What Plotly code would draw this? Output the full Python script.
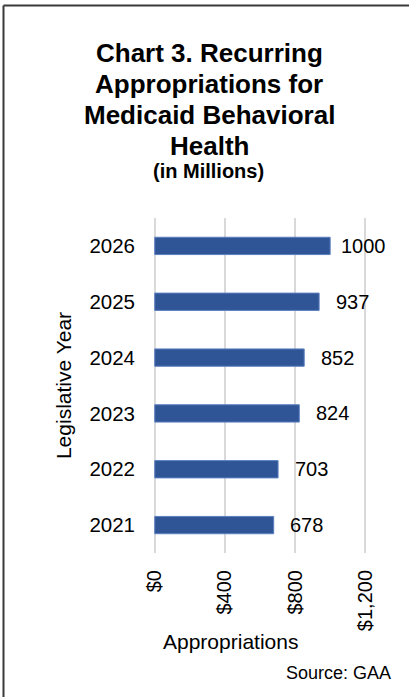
import plotly.graph_objects as go

years = ["2021", "2022", "2023", "2024", "2025", "2026"]
appropriations = [678, 703, 824, 852, 937, 1000]
x_ticks = [0, 400, 800, 1200]
x_tick_labels = ["$0", "$400", "$800", "$1,200"]
title_lines = ["Chart 3. Recurring", "Appropriations for", "Medicaid Behavioral", "Health"]
subtitle = "(in Millions)"

W, H = 409, 697
L, R, T, B = 153, 42, 218, 144
pw, ph = W - L - R, H - T - B

def px_x(p):
    return (p - L) / pw

def px_y(p):
    return (H - B - p) / ph

FONT = "Liberation Sans, Arial, sans-serif"
BLUE = "#2F5597"

fig = go.Figure()
fig.add_trace(go.Bar(
    y=years, x=appropriations, orientation="h",
    marker=dict(color=BLUE, line=dict(color="#5B7FC0", width=1)),
    hoverinfo="x+y",
))

annotations = []
# category axes place annotations by category index
for i, v in enumerate(appropriations):
    annotations.append(dict(x=v, y=i, xref="x", yref="y", text=str(v),
                            showarrow=False, xanchor="center", yanchor="middle",
                            xshift=33, font=dict(size=20, color="#000", family=FONT)))

# title lines (tight Excel-like line spacing)
for i, line in enumerate(title_lines):
    annotations.append(dict(x=px_x(209), y=px_y(53 + 31 * i), xref="paper", yref="paper",
                            text="<b>%s</b>" % line, showarrow=False,
                            xanchor="center", yanchor="middle",
                            font=dict(size=26, color="#000", family=FONT)))
annotations.append(dict(x=px_x(208), y=px_y(171), xref="paper", yref="paper",
                        text="<b>%s</b>" % subtitle, showarrow=False,
                        xanchor="center", yanchor="middle",
                        font=dict(size=20, color="#000", family=FONT)))
annotations.append(dict(x=px_x(230), y=px_y(641), xref="paper", yref="paper",
                        text="Appropriations", showarrow=False,
                        xanchor="center", yanchor="middle",
                        font=dict(size=21, color="#000", family=FONT)))
annotations.append(dict(x=px_x(393), y=px_y(673), xref="paper", yref="paper",
                        text="Source: GAA", showarrow=False,
                        xanchor="right", yanchor="middle",
                        font=dict(size=18, color="#000", family=FONT)))

shapes = [
    dict(type="line", xref="paper", yref="paper",
         x0=px_x(3.5), x1=px_x(409), y0=px_y(5.5), y1=px_y(5.5),
         line=dict(color="#3a3a3a", width=2)),
    dict(type="line", xref="paper", yref="paper",
         x0=px_x(3.5), x1=px_x(3.5), y0=px_y(5.5), y1=px_y(697),
         line=dict(color="#3a3a3a", width=2)),
]

fig.update_layout(
    width=W, height=H,
    margin=dict(l=L, r=R, t=T, b=B, pad=0),
    paper_bgcolor="white", plot_bgcolor="white",
    showlegend=False,
    bargap=0.69,
    font=dict(family=FONT, color="#000"),
    xaxis=dict(
        range=[-10, 1210], tickvals=x_ticks, ticktext=x_tick_labels,
        tickangle=-90, tickfont=dict(size=20, color="#000"),
        showgrid=True, gridcolor="#D9D9D9", gridwidth=2,
        zeroline=False, showline=False, ticks="", ticklabelstandoff=12,
    ),
    yaxis=dict(
        type="category",
        categoryorder="array", categoryarray=years,
        range=[-0.5, len(years) - 0.5],
        tickfont=dict(size=20.5, color="#000"),
        showgrid=False, zeroline=False, showline=False, ticks="",
        ticklabelstandoff=17,
        title=dict(text="Legislative Year", font=dict(size=21, color="#000"), standoff=12),
    ),
    annotations=annotations,
    shapes=shapes,
)

fig.write_html("out.html", config={"displayModeBar": False},
               post_script="document.body.style.margin='0';")
